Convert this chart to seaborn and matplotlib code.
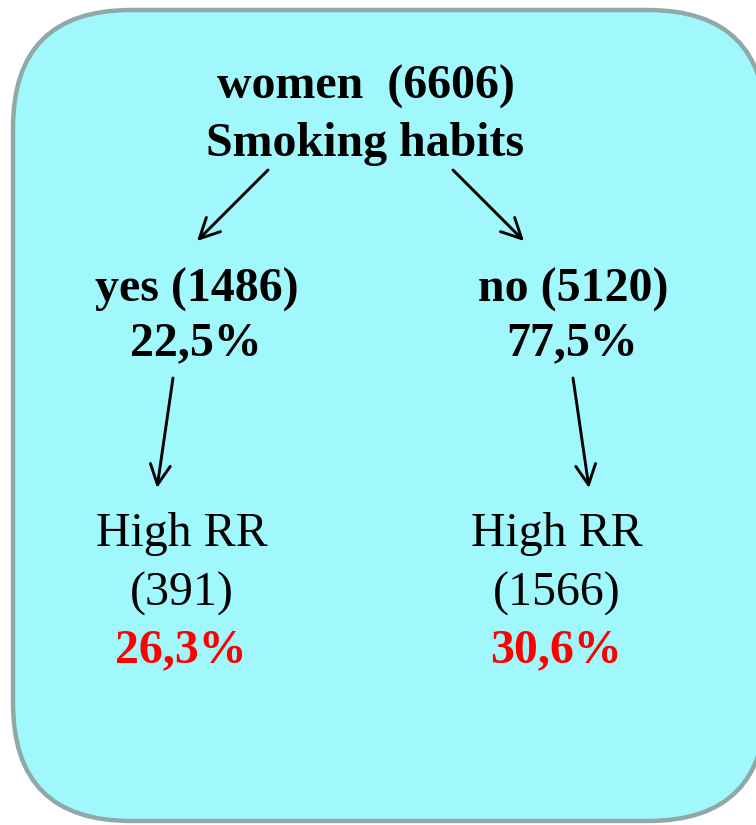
import matplotlib
matplotlib.use("Agg")
import matplotlib.pyplot as plt
from matplotlib.patches import FancyBboxPatch
import seaborn as sns

# ---- data ----
root_label = "women"
root_count = 6606
root_question = "Smoking habits"
branch_labels = ["yes", "no"]
branch_counts = [1486, 5120]
branch_pcts = ["22,5%", "77,5%"]
outcome_label = "High RR"
outcome_counts = [391, 1566]
outcome_pcts = ["26,3%", "30,6%"]

sns.set_theme(style="white")
plt.rcParams['font.family'] = ['Liberation Serif', 'DejaVu Serif']

W, H = 756, 825
fig = plt.figure(figsize=(W / 100, H / 100), dpi=100)
ax = fig.add_axes([0, 0, 1, 1])
ax.set_xlim(0, W)
ax.set_ylim(H, 0)
ax.axis("off")

box = FancyBboxPatch((13, 10), 753, 811,
                     boxstyle="round,pad=0,rounding_size=118",
                     facecolor="#A0F8FC", edgecolor="#8FA8A8",
                     linewidth=3.2, zorder=1, clip_on=False)
ax.add_patch(box)

fs = 34.5
ax.text(366, 99, f"{root_label}  ({root_count})", ha="center", va="baseline",
        fontsize=fs, fontweight="bold", color="black", zorder=3)
ax.text(365, 156, root_question, ha="center", va="baseline",
        fontsize=fs, fontweight="bold", color="black", zorder=3)

bx = [197, 573]
for i in range(2):
    ax.text(bx[i], 302, f"{branch_labels[i]} ({branch_counts[i]})", ha="center",
            va="baseline", fontsize=fs, fontweight="bold", color="black", zorder=3)
    ax.text(bx[i] - 1, 355, branch_pcts[i], ha="center", va="baseline",
            fontsize=fs, fontweight="bold", color="black", zorder=3)

ox = [181.5, 557]
for i in range(2):
    ax.text(ox[i], 546, outcome_label, ha="center", va="baseline",
            fontsize=fs, color="black", zorder=3)
    ax.text(ox[i], 606, f"({outcome_counts[i]})", ha="center", va="baseline",
            fontsize=fs, color="black", zorder=3)
    ax.text(ox[i] - 1, 662, outcome_pcts[i], ha="center", va="baseline",
            fontsize=fs, fontweight="bold", color="#FF0000", zorder=3)

arrows = [((268, 170), (197, 241)), ((453, 170), (524, 241)),
          ((173, 378), (157, 488)), ((573, 378), (589, 488))]
for (x0, y0), (x1, y1) in arrows:
    ax.annotate("", xy=(x1, y1), xytext=(x0, y0),
                arrowprops=dict(arrowstyle="->,head_length=1.2,head_width=0.6",
                                color="black", lw=2.1,
                                shrinkA=0, shrinkB=0), zorder=3)

fig.savefig("out.png", dpi=100, facecolor="white")
